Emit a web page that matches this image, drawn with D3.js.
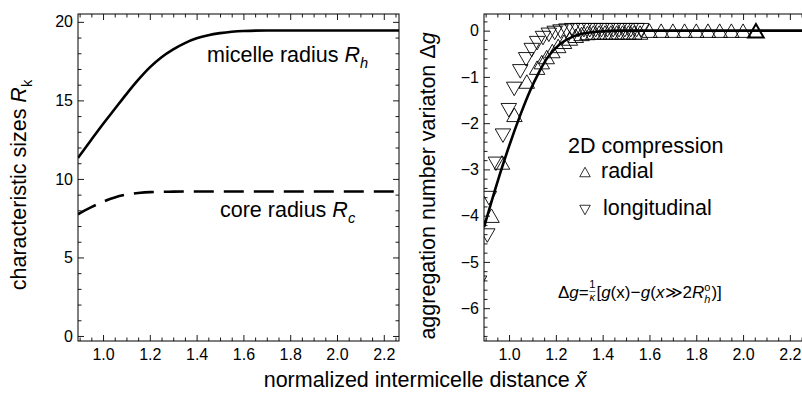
<!DOCTYPE html>
<html>
<head>
<meta charset="utf-8">
<script src="https://cdn.jsdelivr.net/npm/d3@7"></script>
<style>
  body { margin: 0; background: #fff; }
  svg { display: block; font-family: "Liberation Sans", Arial, sans-serif; }
</style>
</head>
<body>
<div id="chart"></div>
<script>
// ---- data ----
const xMajorTicks = [1.0, 1.2, 1.4, 1.6, 1.8, 2.0, 2.2];
const leftYTicks = [0, 5, 10, 15, 20];
const rightYTicks = [0, -1, -2, -3, -4, -5, -6];

// left panel: characteristic sizes
const micelleRadius = [
  [0.893, 11.34], [0.95, 12.5], [1.0, 13.5], [1.05, 14.45], [1.1, 15.4], [1.15, 16.3],
  [1.2, 17.1], [1.25, 17.75], [1.3, 18.25], [1.35, 18.65], [1.4, 18.95], [1.45, 19.15],
  [1.5, 19.28], [1.55, 19.37], [1.6, 19.42], [1.7, 19.45], [2.3, 19.45]
];
const coreRadius = [
  [0.893, 7.75], [0.95, 8.2], [1.0, 8.55], [1.05, 8.82], [1.1, 9.0], [1.15, 9.1],
  [1.2, 9.16], [1.3, 9.19], [1.4, 9.2], [2.3, 9.2]
];

// right panel: aggregation number variation
const dgModel = [
  [0.893, -4.25], [0.953, -3.23], [1.0, -2.5], [1.05, -1.8], [1.09, -1.3], [1.125, -0.93],
  [1.162, -0.6], [1.218, -0.29], [1.273, -0.13], [1.333, -0.05], [1.4, -0.015],
  [1.47, 0], [2.3, 0]
];
const radialData = [
  [0.925, -4.0], [0.97, -2.85], [1.023, -1.82], [1.076, -1.1], [1.12, -0.8], [1.14, -0.68],
  [1.161, -0.57], [1.185, -0.44], [1.21, -0.33], [1.235, -0.24], [1.26, -0.17],
  [1.285, -0.11], [1.31, -0.07], [1.335, -0.05], [1.36, -0.04], [1.385, -0.04],
  [1.41, -0.04], [1.435, -0.04], [1.46, -0.04], [1.485, -0.04], [1.51, -0.04],
  [1.535, -0.04], [1.56, -0.04], [1.6, 0], [1.65, 0], [1.7, 0], [1.75, 0], [1.8, 0],
  [1.85, 0], [1.9, 0], [1.95, 0], [2.0, 0], [2.055, 0]
];
const longitudinalData = [
  [0.872, -5.45], [0.907, -4.43], [0.914, -3.62], [0.944, -2.88], [0.974, -2.27],
  [0.999, -1.72], [1.022, -1.26], [1.048, -0.88], [1.073, -0.62], [1.097, -0.42],
  [1.12, -0.27], [1.145, -0.16], [1.17, -0.09], [1.195, -0.05], [1.22, -0.02],
  [1.245, 0], [1.27, 0.01], [1.295, 0.01], [1.32, 0.01], [1.345, 0.01], [1.37, 0.01],
  [1.395, 0.01], [1.42, 0.01], [1.445, 0.01], [1.47, 0.01], [1.495, 0.01],
  [1.52, 0.01], [1.545, 0.01], [1.565, 0.01]
];

// ---- layout ----
const W = 802, H = 396;
const svg = d3.select('#chart').append('svg').attr('width', W).attr('height', H);

const xLeft = d3.scaleLinear().domain([0.893, 2.265]).range([78, 399]);
const xRight = d3.scaleLinear().domain([0.893, 2.286]).range([484, 810]);
const yLeft = d3.scaleLinear().domain([-0.32, 20.5]).range([341, 14]);
const yRight = d3.scaleLinear().domain([-6.71, 0.36]).range([341, 14]);

const isMajor = (v, step) => Math.abs(v / step - Math.round(v / step)) < 1e-6;
const xMinor = d3.range(0.9, 2.29, 0.05).map(v => +v.toFixed(2)).filter(v => !isMajor(v, 0.2));
const leftYMinor = d3.range(0, 21, 1).filter(v => !isMajor(v, 5));
const rightYMinor = d3.range(-6.6, 0.3, 0.2).map(v => +v.toFixed(1)).filter(v => !isMajor(v, 1));

function styleAxis(sel) {
  sel.select('.domain').remove();
  sel.attr('font-size', 16).attr('font-family', null);
  sel.selectAll('line').attr('stroke', '#000').attr('stroke-width', 0.9);
  sel.selectAll('text').attr('fill', '#000');
}

// Mathematica-style frame: ticks on all four sides, pointing inwards
function drawFrame(x, y, yMajor, yMinor) {
  const [xl, xr] = x.range();
  const [yb, yt] = y.range();
  const xm = xMinor.filter(v => v <= x.domain()[1]);
  const g = svg.append('g');

  g.append('g').attr('transform', `translate(0,${yb})`)
    .call(d3.axisBottom(x).tickValues(xMajorTicks).tickSizeInner(-6).tickSizeOuter(0)
      .tickPadding(8).tickFormat(d3.format('.1f')))
    .call(styleAxis);
  g.append('g').attr('transform', `translate(0,${yb})`)
    .call(d3.axisBottom(x).tickValues(xm).tickSizeInner(-3.5).tickSizeOuter(0).tickFormat(''))
    .call(styleAxis);
  g.append('g').attr('transform', `translate(0,${yt})`)
    .call(d3.axisTop(x).tickValues(xMajorTicks).tickSizeInner(-6).tickSizeOuter(0).tickFormat(''))
    .call(styleAxis);
  g.append('g').attr('transform', `translate(0,${yt})`)
    .call(d3.axisTop(x).tickValues(xm).tickSizeInner(-3.5).tickSizeOuter(0).tickFormat(''))
    .call(styleAxis);

  g.append('g').attr('transform', `translate(${xl},0)`)
    .call(d3.axisLeft(y).tickValues(yMajor).tickSizeInner(-6).tickSizeOuter(0)
      .tickPadding(5).tickFormat(d3.format('d')))
    .call(styleAxis);
  g.append('g').attr('transform', `translate(${xl},0)`)
    .call(d3.axisLeft(y).tickValues(yMinor).tickSizeInner(-3.5).tickSizeOuter(0).tickFormat(''))
    .call(styleAxis);
  g.append('g').attr('transform', `translate(${xr},0)`)
    .call(d3.axisRight(y).tickValues(yMajor).tickSizeInner(-6).tickSizeOuter(0).tickFormat(''))
    .call(styleAxis);
  g.append('g').attr('transform', `translate(${xr},0)`)
    .call(d3.axisRight(y).tickValues(yMinor).tickSizeInner(-3.5).tickSizeOuter(0).tickFormat(''))
    .call(styleAxis);

  g.append('rect')
    .attr('x', xl).attr('y', yt)
    .attr('width', xr - xl).attr('height', yb - yt)
    .attr('fill', 'none').attr('stroke', '#000').attr('stroke-width', 1);
}

function addClip(id, x, y) {
  const [xl, xr] = x.range();
  const [yb, yt] = y.range();
  svg.append('clipPath').attr('id', id)
    .append('rect').attr('x', xl).attr('y', yt).attr('width', xr - xl).attr('height', yb - yt);
}

// text with italic / sub / sup pieces
function richText(parent, parts, size) {
  const t = parent.append('text').attr('font-size', size).attr('fill', '#000');
  let shift = 0;
  parts.forEach(p => {
    const target = p.sub ? size * 0.28 : p.sup ? -size * 0.38 : 0;
    t.append('tspan')
      .attr('dy', target - shift)
      .attr('font-size', (p.sub || p.sup) ? size * 0.68 : size)
      .attr('font-style', p.i ? 'italic' : null)
      .text(p.t);
    shift = target;
  });
  return t;
}

function triPath(w, h, up) {
  const s = up ? 1 : -1;
  return `M0,${-s * h / 2}L${w / 2},${s * h / 2}L${-w / 2},${s * h / 2}Z`;
}

// ---- left panel ----
addClip('clipL', xLeft, yLeft);
drawFrame(xLeft, yLeft, leftYTicks, leftYMinor);

const lineL = d3.line().x(d => xLeft(d[0])).y(d => yLeft(d[1])).curve(d3.curveMonotoneX);
const gL = svg.append('g').attr('clip-path', 'url(#clipL)');
gL.append('path').datum(micelleRadius).attr('d', lineL)
  .attr('fill', 'none').attr('stroke', '#000').attr('stroke-width', 2.6);
gL.append('path').datum(coreRadius).attr('d', lineL)
  .attr('fill', 'none').attr('stroke', '#000').attr('stroke-width', 2.6)
  .attr('stroke-dasharray', '20,10');

richText(svg, [{ t: 'micelle radius ' }, { t: 'R', i: true }, { t: 'h', i: true, sub: true }], 21.5)
  .attr('x', 207).attr('y', 62);
richText(svg, [{ t: 'core radius ' }, { t: 'R', i: true }, { t: 'c', i: true, sub: true }], 21.5)
  .attr('x', 220).attr('y', 217);

richText(svg, [{ t: 'characteristic sizes ' }, { t: 'R', i: true }, { t: 'k', sub: true }], 21.5)
  .attr('text-anchor', 'middle')
  .attr('transform', 'translate(26,185) rotate(-90)');

// ---- right panel ----
addClip('clipR', xRight, yRight);
drawFrame(xRight, yRight, rightYTicks, rightYMinor);

const lineR = d3.line().x(d => xRight(d[0])).y(d => yRight(d[1])).curve(d3.curveMonotoneX);
const gR = svg.append('g').attr('clip-path', 'url(#clipR)');
gR.append('path').datum(dgModel).attr('d', lineR)
  .attr('fill', 'none').attr('stroke', '#000').attr('stroke-width', 2.6);

gR.selectAll('.radial').data(radialData).enter().append('path')
  .attr('class', 'radial')
  .attr('transform', d => `translate(${xRight(d[0])},${yRight(d[1])})`)
  .attr('d', triPath(15.5, 13.5, true))
  .attr('fill', 'none').attr('stroke', '#000')
  .attr('stroke-width', (d, i) => i === radialData.length - 1 ? 2 : 0.9);

gR.selectAll('.longitudinal').data(longitudinalData).enter().append('path')
  .attr('class', 'longitudinal')
  .attr('transform', d => `translate(${xRight(d[0])},${yRight(d[1])})`)
  .attr('d', triPath(15.5, 13.5, false))
  .attr('fill', 'none').attr('stroke', '#000').attr('stroke-width', 0.9);

richText(svg, [{ t: 'aggregation number variaton Δ' }, { t: 'g', i: true }], 21.5)
  .attr('text-anchor', 'middle')
  .attr('transform', 'translate(435,186) rotate(-90)');

// legend
const legend = svg.append('g').attr('fill', '#000');
legend.append('text').attr('x', 568).attr('y', 153).attr('font-size', 21.5)
  .text('2D compression');
legend.append('path').attr('transform', 'translate(585,172)').attr('d', triPath(10.5, 9.5, true))
  .attr('fill', 'none').attr('stroke', '#000').attr('stroke-width', 0.8);
legend.append('text').attr('x', 601).attr('y', 178).attr('font-size', 21.5)
  .text('radial');
legend.append('path').attr('transform', 'translate(585,210)').attr('d', triPath(10.5, 9.5, false))
  .attr('fill', 'none').attr('stroke', '#000').attr('stroke-width', 0.8);
legend.append('text').attr('x', 603).attr('y', 215).attr('font-size', 21.5)
  .text('longitudinal');

// formula, built piece by piece
(function formula() {
  const fs = 17, base = 298;
  let cx = 558;
  const fg = svg.append('g').attr('fill', '#000');
  function piece(str, opt = {}) {
    cx += opt.padL || 0;
    const t = fg.append('text').attr('x', cx).attr('y', base + (opt.dy || 0))
      .attr('font-size', opt.size || fs).attr('font-style', opt.i ? 'italic' : null).text(str);
    cx += t.node().getComputedTextLength() + (opt.pad || 0);
  }
  piece('Δ'); piece('g', { i: true }); piece('=');
  const fx = cx + 0.5;
  const num = fg.append('text').attr('x', fx).attr('y', base - 10.5).attr('font-size', 11).text('1');
  const den = fg.append('text').attr('x', fx).attr('y', base + 3).attr('font-size', 11)
    .attr('font-style', 'italic').text('κ');
  const fw = Math.max(num.node().getComputedTextLength(), den.node().getComputedTextLength());
  num.attr('x', fx + (fw - num.node().getComputedTextLength()) / 2);
  den.attr('x', fx + (fw - den.node().getComputedTextLength()) / 2);
  fg.append('line').attr('x1', fx).attr('x2', fx + fw).attr('y1', base - 6.5).attr('y2', base - 6.5)
    .attr('stroke', '#000').attr('stroke-width', 0.6);
  cx = fx + fw + 1;
  piece('['); piece('g', { i: true }); piece('(x)'); piece('−', { pad: 0.5 });
  piece('g', { i: true }); piece('(');
  piece('x', { i: true }); piece('≫'); piece('2'); piece('R', { i: true });
  const sx = cx;
  piece('o', { size: 11, dy: -7 });
  const supEnd = cx;
  cx = sx;
  piece('h', { size: 11, dy: 5, i: true });
  cx = Math.max(cx, supEnd) + 1;
  piece(')]');
})();

// shared x title
richText(svg, [{ t: 'normalized intermicelle distance ' }, { t: 'x\u0303', i: true }], 21.5)
  .attr('text-anchor', 'middle').attr('x', 425).attr('y', 387);
</script>
</body>
</html>
